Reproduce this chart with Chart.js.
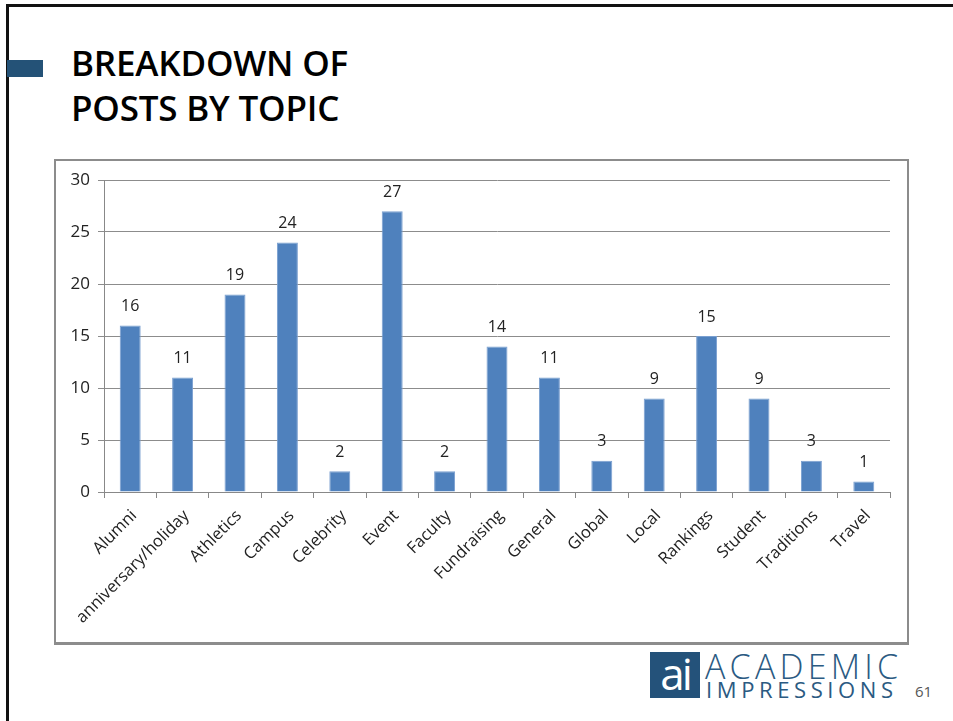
<!DOCTYPE html>
<html><head><meta charset="utf-8">
<script src="https://cdn.jsdelivr.net/npm/chart.js@4/dist/chart.umd.min.js"></script>
<style>
html,body{margin:0;padding:0;background:#fff;width:953px;height:721px;overflow:hidden;font-family:"Open Sans",sans-serif;}
#frame{position:absolute;left:6px;top:4px;width:960px;height:730px;border-left:3px solid #111;border-top:3px solid #111;box-sizing:border-box;}
#accent{position:absolute;left:7px;top:60px;width:36px;height:17px;background:#245277;}
#title{position:absolute;left:71px;top:40px;font-family:"Open Sans",sans-serif;font-weight:600;font-size:35px;line-height:45px;color:#000;letter-spacing:-0.2px;}
#box{position:absolute;left:54px;top:159px;width:855px;height:486px;border:2px solid #8c8c8c;border-bottom-width:3px;box-sizing:border-box;background:#fff;}
#box canvas{display:block;}
#logo{position:absolute;left:650px;top:652px;width:50px;height:46px;background:#24527a;color:#fff;font-family:"Open Sans",sans-serif;font-size:44px;line-height:42px;text-align:center;letter-spacing:-3px;}
#ac{position:absolute;left:705px;top:643px;font-family:"Open Sans",sans-serif;font-weight:300;font-size:34px;color:#2b5a82;letter-spacing:4.2px;}
#im{position:absolute;left:706px;top:674px;font-family:"Open Sans",sans-serif;font-weight:400;font-size:22px;color:#2b5a82;letter-spacing:4.6px;}
#pg{position:absolute;left:915px;top:681px;font-size:15px;color:#555;}
</style></head>
<body>
<div id="frame"></div>
<div id="accent"></div>
<div id="title">BREAKDOWN OF<br>POSTS BY TOPIC</div>
<div id="box"><canvas id="c" width="851" height="481"></canvas></div>
<div id="logo">ai</div>
<div id="ac">ACADEMIC</div>
<div id="im">IMPRESSIONS</div>
<div id="pg">61</div>
<script>
const categories = ["Alumni","anniversary/holiday","Athletics","Campus","Celebrity","Event","Faculty","Fundraising","General","Global","Local","Rankings","Student","Traditions","Travel"];
const posts = [16,11,19,24,2,27,2,14,11,3,9,15,9,3,1];
const yTicks = [0,5,10,15,20,25,30];

const valueLabels = {
  id:'valueLabels',
  afterDatasetsDraw(chart){
    const ctx = chart.ctx;
    const meta = chart.getDatasetMeta(0);
    ctx.save();
    ctx.font = '16px "Open Sans", sans-serif';
    ctx.fillStyle = '#222';
    ctx.textAlign = 'center';
    ctx.textBaseline = 'middle';
    meta.data.forEach((bar,i)=>{
      ctx.fillText(String(posts[i]), bar.x, bar.y - 19);
    });
    ctx.restore();
  }
};

new Chart(document.getElementById('c'), {
  type:'bar',
  data:{labels:categories, datasets:[{data:posts, backgroundColor:'#4f81bd', borderColor:'#7a9fd0', borderWidth:{top:1,left:1,right:1,bottom:0}, barPercentage:0.4, categoryPercentage:1.0}]},
  options:{
    responsive:false, animation:false,
    layout:{padding:{top:19,right:17,left:0,bottom:0}},
    plugins:{legend:{display:false}, tooltip:{enabled:false}},
    scales:{
      x:{
        grid:{display:true, drawOnChartArea:false, offset:true, color:'#888', tickLength:6, tickColor:'#888'},
        border:{display:true, color:'#888', width:1},
        ticks:{minRotation:45, maxRotation:45, color:'#222', font:{family:'"Open Sans", sans-serif', size:16.5}, padding:8, labelOffset:4},
        afterFit(s){ s.height = 150; }
      },
      y:{
        min:0, max:30,
        afterBuildTicks(s){ s.ticks = yTicks.map(v=>({value:v})); },
        grid:{color:'#8c8c8c', tickLength:6, tickColor:'#8c8c8c'},
        border:{display:true, color:'#888'},
        ticks:{color:'#222', font:{family:'"Open Sans", sans-serif', size:17}, padding:8},
        afterFit(s){ s.width = 48; }
      }
    }
  },
  plugins:[valueLabels]
});
</script>
</body></html>
